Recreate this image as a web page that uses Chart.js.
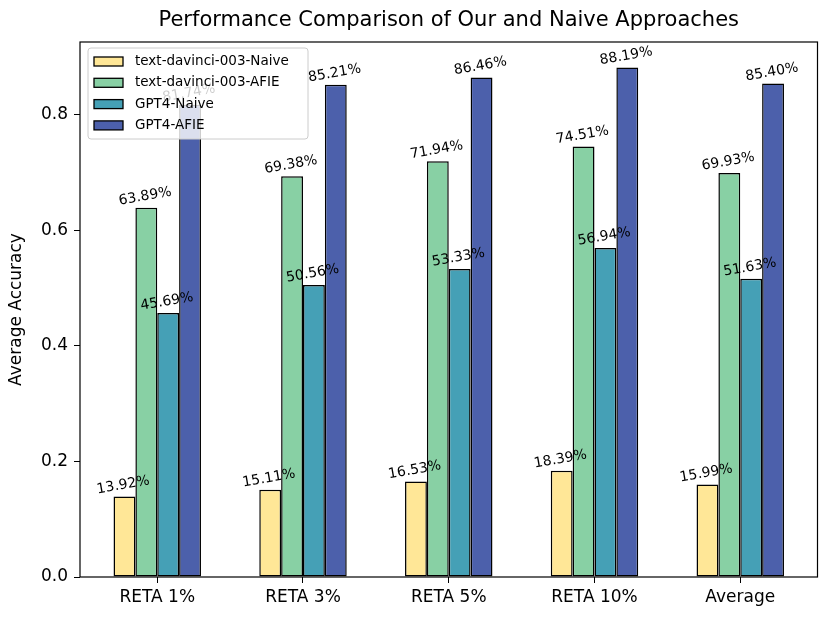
<!DOCTYPE html>
<html>
<head>
<meta charset="utf-8">
<script src="https://cdn.jsdelivr.net/npm/chart.js@4"></script>
<style>
  html, body { margin: 0; padding: 0; background: #fff; }
  #wrap { width: 831px; height: 621px; }
</style>
</head>
<body>
<div id="wrap"><canvas id="chart" width="831" height="621"></canvas></div>
<script>
// values
const categories = ['RETA 1%', 'RETA 3%', 'RETA 5%', 'RETA 10%', 'Average'];
const seriesNames = ['text-davinci-003-Naive', 'text-davinci-003-AFIE', 'GPT4-Naive', 'GPT4-AFIE'];
const davinciNaive = [0.1392, 0.1511, 0.1653, 0.1839, 0.1599];
const davinciAfie = [0.6389, 0.6938, 0.7194, 0.7451, 0.6993];
const gpt4Naive = [0.4569, 0.5056, 0.5333, 0.5694, 0.5163];
const gpt4Afie = [0.8174, 0.8521, 0.8646, 0.8819, 0.8540];
const yTicks = [0.0, 0.2, 0.4, 0.6, 0.8];

const colors = ['#FFE797', '#88D0A4', '#45A0B6', '#4C60AB'];
const FONT = '"DejaVu Sans", sans-serif';

const allSeries = [davinciNaive, davinciAfie, gpt4Naive, gpt4Afie];

const datasets = allSeries.map((vals, i) => ({
  label: seriesNames[i],
  data: vals.map((v, j) => ({ x: j, y: v })),
  backgroundColor: colors[i],
  borderColor: '#000',
  borderWidth: 1.5,
  borderSkipped: false,
  categoryPercentage: 0.6,
  barPercentage: 1.0
}));

// labels above bars, slightly rotated
const barLabels = {
  id: 'barLabels',
  afterDatasetsDraw(chart) {
    const ctx = chart.ctx;
    ctx.save();
    ctx.font = '14px ' + FONT;
    ctx.fillStyle = '#000';
    ctx.textAlign = 'center';
    ctx.textBaseline = 'bottom';
    chart.data.datasets.forEach((ds, i) => {
      chart.getDatasetMeta(i).data.forEach((bar, j) => {
        const v = allSeries[i][j];
        ctx.save();
        ctx.translate(bar.x, bar.y - 4.5);
        ctx.rotate(-10 * Math.PI / 180);
        ctx.fillText((v * 100).toFixed(2) + '%', 0, 0);
        ctx.restore();
      });
    });
    ctx.restore();
  }
};

// frame, title, y-label and legend inside the plot
const decor = {
  id: 'decor',
  afterDraw(chart) {
    const ctx = chart.ctx;
    const a = chart.chartArea;
    ctx.save();
    ctx.strokeStyle = '#000';
    ctx.lineWidth = 1.2;
    ctx.strokeRect(a.left, a.top, a.right - a.left, a.bottom - a.top);

    ctx.fillStyle = '#000';
    ctx.font = '21px ' + FONT;
    ctx.textAlign = 'center';
    ctx.textBaseline = 'middle';
    ctx.fillText('Performance Comparison of Our and Naive Approaches', (a.left + a.right) / 2, 21);

    ctx.save();
    ctx.font = '17px ' + FONT;
    ctx.translate(17, (a.top + a.bottom) / 2);
    ctx.rotate(-Math.PI / 2);
    ctx.fillText('Average Accuracy', 0, 0);
    ctx.restore();

    // legend box
    const lx = a.left + 8, ly = a.top + 6, lw = 220, lh = 91;
    ctx.beginPath();
    ctx.roundRect(lx, ly, lw, lh, 3);
    ctx.fillStyle = 'rgba(255,255,255,0.8)';
    ctx.fill();
    ctx.strokeStyle = '#cccccc';
    ctx.lineWidth = 1;
    ctx.stroke();
    ctx.font = '13.5px ' + FONT;
    ctx.textAlign = 'left';
    ctx.textBaseline = 'middle';
    seriesNames.forEach((name, i) => {
      const cy = ly + 13.5 + i * 21.3;
      ctx.fillStyle = colors[i];
      ctx.fillRect(lx + 6, cy - 4.5, 29, 9);
      ctx.strokeStyle = '#000';
      ctx.lineWidth = 1.3;
      ctx.strokeRect(lx + 6, cy - 4.5, 29, 9);
      ctx.fillStyle = '#000';
      ctx.fillText(name, lx + 47, cy);
    });
    ctx.restore();
  }
};

new Chart(document.getElementById('chart').getContext('2d'), {
  type: 'bar',
  data: { datasets },
  options: {
    responsive: false,
    animation: false,
    devicePixelRatio: 1,
    layout: { padding: { top: 42, right: 13.5, left: 0, bottom: 0 } },
    plugins: {
      legend: { display: false },
      title: { display: false },
      tooltip: { enabled: false }
    },
    scales: {
      x: {
        type: 'linear',
        min: -0.53,
        max: 4.53,
        offset: false,
        afterBuildTicks: (scale) => { scale.ticks = categories.map((c, i) => ({ value: i })); },
        afterFit: (scale) => { scale.height = 44; },
        grid: { display: true, offset: false, drawOnChartArea: false, tickLength: 6, color: '#000', lineWidth: 1 },
        border: { display: false },
        ticks: {
          includeBounds: false,
          autoSkip: false,
          maxRotation: 0,
          padding: 4,
          color: '#000',
          font: { family: FONT, size: 17 },
          callback: (v) => categories[v]
        }
      },
      y: {
        min: 0,
        max: 0.926,
        afterBuildTicks: (scale) => { scale.ticks = yTicks.map(v => ({ value: v })); },
        afterFit: (scale) => { scale.width = 80; },
        grid: { display: true, offset: false, drawOnChartArea: false, tickLength: 6, color: '#000', lineWidth: 1 },
        border: { display: false },
        ticks: {
          includeBounds: false,
          padding: 6,
          color: '#000',
          font: { family: FONT, size: 17 },
          callback: (v) => v.toFixed(1)
        }
      }
    }
  },
  plugins: [barLabels, decor]
});
</script>
</body>
</html>
